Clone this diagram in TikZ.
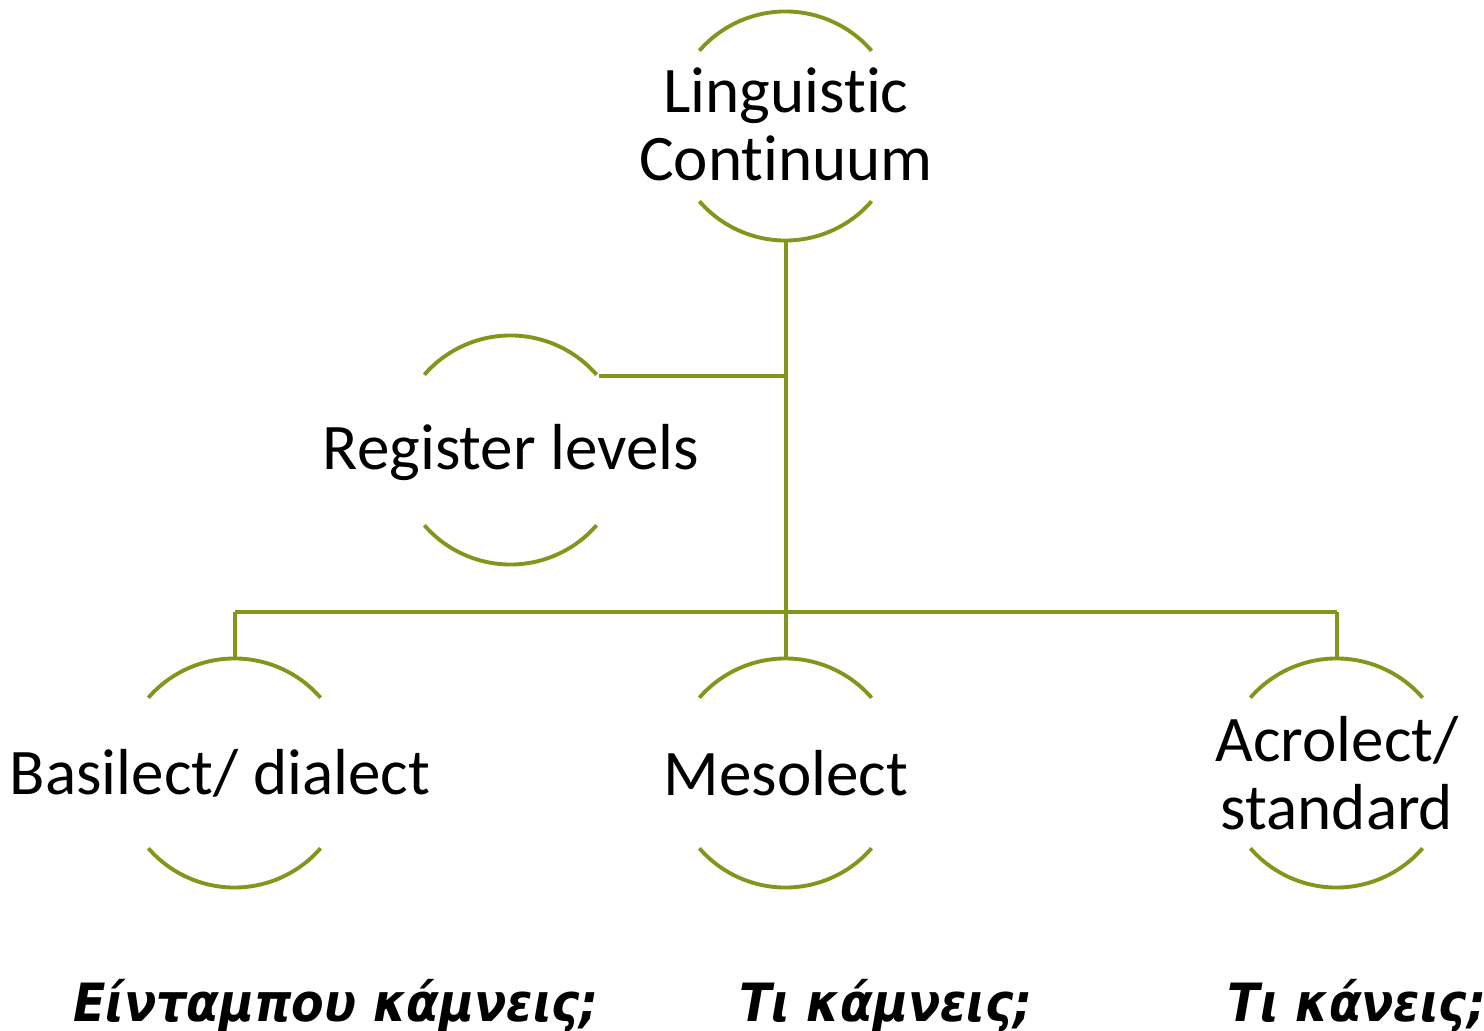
\documentclass[tikz,border=0pt]{standalone}
\usepackage{fontspec}
\setmainfont{Carlito}[Ligatures=NoCommon]
\newfontfamily\greekfont{DejaVu Sans Condensed}
\usetikzlibrary{calc,positioning}
\definecolor{olive}{RGB}{127,151,26}

\begin{document}
\begin{tikzpicture}[x=0.01cm,y=-0.01cm,
                      ring/.style={circle,minimum size=2.28cm,inner sep=0pt},
                      lbl/.style={align=center,font=\fontsize{18.5}{19.3}\selectfont},
                      phrase/.style={anchor=base,font=\greekfont\bfseries\itshape\fontsize{15}{17}\selectfont},
                      lnk/.style={draw=olive,line width=1.1pt}
                  ]
                      \useasboundingbox (0,0) rectangle (1484,1031);

                      \node[ring] (root) at (786,126) {};
                      \node[ring] (reg)  at (511,450) {};
                      \node[ring] (basi) at (235,773) {};
                      \node[ring] (meso) at (786,773) {};
                      \node[ring] (acro) at (1337,773) {};

                      \foreach \n in {root,reg,basi,meso,acro} {%
                          \draw[lnk] (\n.139) arc[start angle=139,end angle=41,radius=1.14cm];
                          \draw[lnk] (\n.221) arc[start angle=221,end angle=319,radius=1.14cm];
                      };

                      \node[lbl] (rootlbl) at ([yshift=0.02cm]root.center) {Linguistic\\Continuum};
                      \node[lbl] (reglbl)  at ([yshift=-0.03cm]reg.center) {Register levels};
                      \node[lbl] (basilbl) at ([xshift=-0.15cm]basi.center) {Basilect/ dialect};
                      \node[lbl] (mesolbl) at (meso) {Mesolect};
                      \node[lbl] (acrolbl) at (acro) {Acrolect/\\standard};

                      \coordinate (regjoin) at (root.south |- reg.40);
                      \coordinate (bus)     at (786,612);

                      \path (root.south) edge[lnk] (meso.north)
                      (regjoin)          edge[lnk] (reg.40)
                      (basi.north)       edge[lnk] (basi.north |- bus)
                      (acro.north)       edge[lnk] (acro.north |- bus)
                      (basi.north |- bus) edge[lnk] (acro.north |- bus);

                      \node[phrase] (basiphr) at (336,1022) {Είνταμπου κάμνεις;};
                      \node[phrase] (mesophr) at (886,1022) {Τι κάμνεις;};
                      \node[phrase] (acrophr) at (1357,1022) {Τι κάνεις;};
                  \end{tikzpicture}
\end{document}
